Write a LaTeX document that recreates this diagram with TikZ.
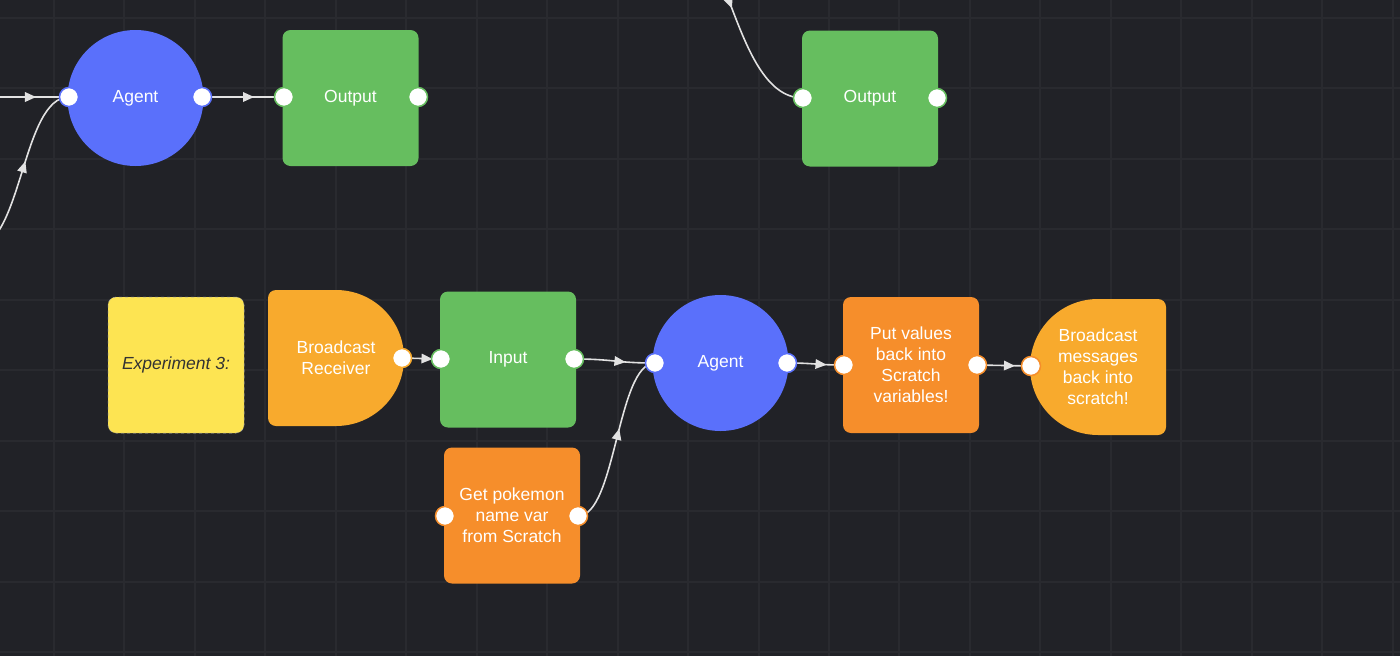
\documentclass[tikz,border=0pt]{standalone}
\usepackage{fontspec}
\setmainfont{Liberation Sans}
\usetikzlibrary{decorations.markings}
\definecolor{bgc}{HTML}{212227}
\definecolor{gridc}{HTML}{292A2F}
\definecolor{agentc}{HTML}{5A70FB}
\definecolor{greenc}{HTML}{66BE5F}
\definecolor{orangec}{HTML}{F68E2B}
\definecolor{lorangec}{HTML}{F8AA2D}
\definecolor{stickyc}{HTML}{FDE452}
\definecolor{edgec}{HTML}{E2E2E2}
\definecolor{stickytext}{HTML}{333333}
\tikzset{
  lbl/.style={text=white, align=center, font=\fontsize{17.5}{21}\selectfont, inner sep=0pt},
  agentnode/.style={circle, fill=agentc, minimum size=136pt, lbl},
  boxnode/.style={rectangle, rounded corners=8pt, minimum width=136pt, minimum height=136pt, lbl},
  halfnode/.style={lbl, minimum width=136pt, minimum height=136pt},
  port/.style={circle, fill=white, draw=#1, line width=1.5pt, minimum size=19pt, inner sep=0pt},
  conn/.style={draw=edgec, line width=1.6pt,
    postaction={decorate, decoration={markings,
      mark=at position 0.5 with {\fill[edgec] (0pt,-5pt) -- (11pt,0pt) -- (0pt,5pt) -- cycle;}}}},
}
\begin{document}
\begin{tikzpicture}[x=1pt,y=-1pt]
\useasboundingbox (0,0) rectangle (1400,656);
\clip (0,0) rectangle (1400,656);
\fill[bgc] (0,0) rectangle (1400,656);
\foreach \i in {0,...,19} \draw[gridc, line width=2pt] ({54+70.45*\i},0) -- ++(0,656);
\foreach \j in {0,...,9} \draw[gridc, line width=2pt] (0,{18+70.45*\j}) -- ++(1400,0);

% ---------- node bodies ----------
\node[agentnode] (agentA) at (135.5,98) {Agent};
\node[boxnode, fill=greenc] (outA) at (350.5,98) {Output};
\node[boxnode, fill=greenc] (outB) at (870,98.5) {Output};

\node[boxnode, fill=stickyc, draw=gray!70, dashed, line width=0.5pt, text=stickytext,
      font=\fontsize{17.5}{21}\selectfont\itshape] (sticky) at (176,365) {Experiment 3:};

\fill[lorangec] (336,290) arc[start angle=-90, end angle=90, radius=68]
   [rounded corners=8pt] -- (268,426) -- (268,290) [sharp corners] -- cycle;
\node[halfnode] (brcv) at (336,358) {Broadcast\\Receiver};

\node[boxnode, fill=greenc] (input) at (508,359.5) {Input};
\node[agentnode] (agentB) at (720.5,363) {Agent};
\node[boxnode, fill=orangec] (getpk) at (512,515.5) {Get pokemon\\name var\\from Scratch};
\node[boxnode, fill=orangec] (putv) at (911,365) {Put values\\back into\\Scratch\\variables!};

\fill[lorangec] (1098,435) arc[start angle=90, end angle=270, radius=68]
   [rounded corners=8pt] -- (1166,299) -- (1166,435) [sharp corners] -- cycle;
\node[halfnode] (bmsg) at (1098,367) {Broadcast\\messages\\back into\\scratch!};

% ---------- port positions ----------
\coordinate (srcA) at (-19,97);
\coordinate (srcB) at (-25,247);
\coordinate (srcC) at (653,-102);
\coordinate (pAgAin) at (69,97);
\coordinate (pAgAout) at (202,97);
\coordinate (pOutAin) at (284,97);
\coordinate (pOutAout) at (418,97);
\coordinate (pOutBin) at (803,98);
\coordinate (pOutBout) at (937,98);
\coordinate (pBrOut) at (402,358);
\coordinate (pInIn) at (441,359);
\coordinate (pInOut) at (574,359);
\coordinate (pAgBin) at (655,363);
\coordinate (pAgBout) at (787,363);
\coordinate (pGpIn) at (445,516);
\coordinate (pGpOut) at (578,516);
\coordinate (pPvIn) at (844,365);
\coordinate (pPvOut) at (977,365);
\coordinate (pBmIn) at (1031,366);

% ---------- connectors ----------
\draw[conn] (srcA) .. controls ([xshift=44pt]srcA) and ([xshift=-44pt]pAgAin) .. (pAgAin);
\draw[conn] (srcB) .. controls ([xshift=47pt]srcB) and ([xshift=-47pt]pAgAin) .. (pAgAin);
\draw[conn] (pAgAout) .. controls ([xshift=41pt]pAgAout) and ([xshift=-41pt]pOutAin) .. (pOutAin);
\draw[conn] (srcC) .. controls ([xshift=75pt]srcC) and ([xshift=-75pt]pOutBin) .. (pOutBin);
\draw[conn] (pBrOut) .. controls ([xshift=20pt]pBrOut) and ([xshift=-20pt]pInIn) .. (pInIn);
\draw[conn] (pInOut) .. controls ([xshift=40pt]pInOut) and ([xshift=-40pt]pAgBin) .. (pAgBin);
\draw[conn] (pGpOut) .. controls ([xshift=38pt]pGpOut) and ([xshift=-38pt]pAgBin) .. (pAgBin);
\draw[conn] (pAgBout) .. controls ([xshift=28pt]pAgBout) and ([xshift=-28pt]pPvIn) .. (pPvIn);
\draw[conn] (pPvOut) .. controls ([xshift=27pt]pPvOut) and ([xshift=-27pt]pBmIn) .. (pBmIn);

% ---------- ports ----------
\node[port=agentc] (agAin) at (pAgAin) {};
\node[port=agentc] (agAout) at (pAgAout) {};
\node[port=greenc] (outAin) at (pOutAin) {};
\node[port=greenc] (outAout) at (pOutAout) {};
\node[port=greenc] (outBin) at (pOutBin) {};
\node[port=greenc] (outBout) at (pOutBout) {};
\node[port=lorangec] (brOut) at (pBrOut) {};
\node[port=greenc] (inIn) at (pInIn) {};
\node[port=greenc] (inOut) at (pInOut) {};
\node[port=agentc] (agBin) at (pAgBin) {};
\node[port=agentc] (agBout) at (pAgBout) {};
\node[port=orangec] (gpIn) at (pGpIn) {};
\node[port=orangec] (gpOut) at (pGpOut) {};
\node[port=orangec] (pvIn) at (pPvIn) {};
\node[port=orangec] (pvOut) at (pPvOut) {};
\node[port=orangec] (bmIn) at (pBmIn) {};
\end{tikzpicture}
\end{document}
